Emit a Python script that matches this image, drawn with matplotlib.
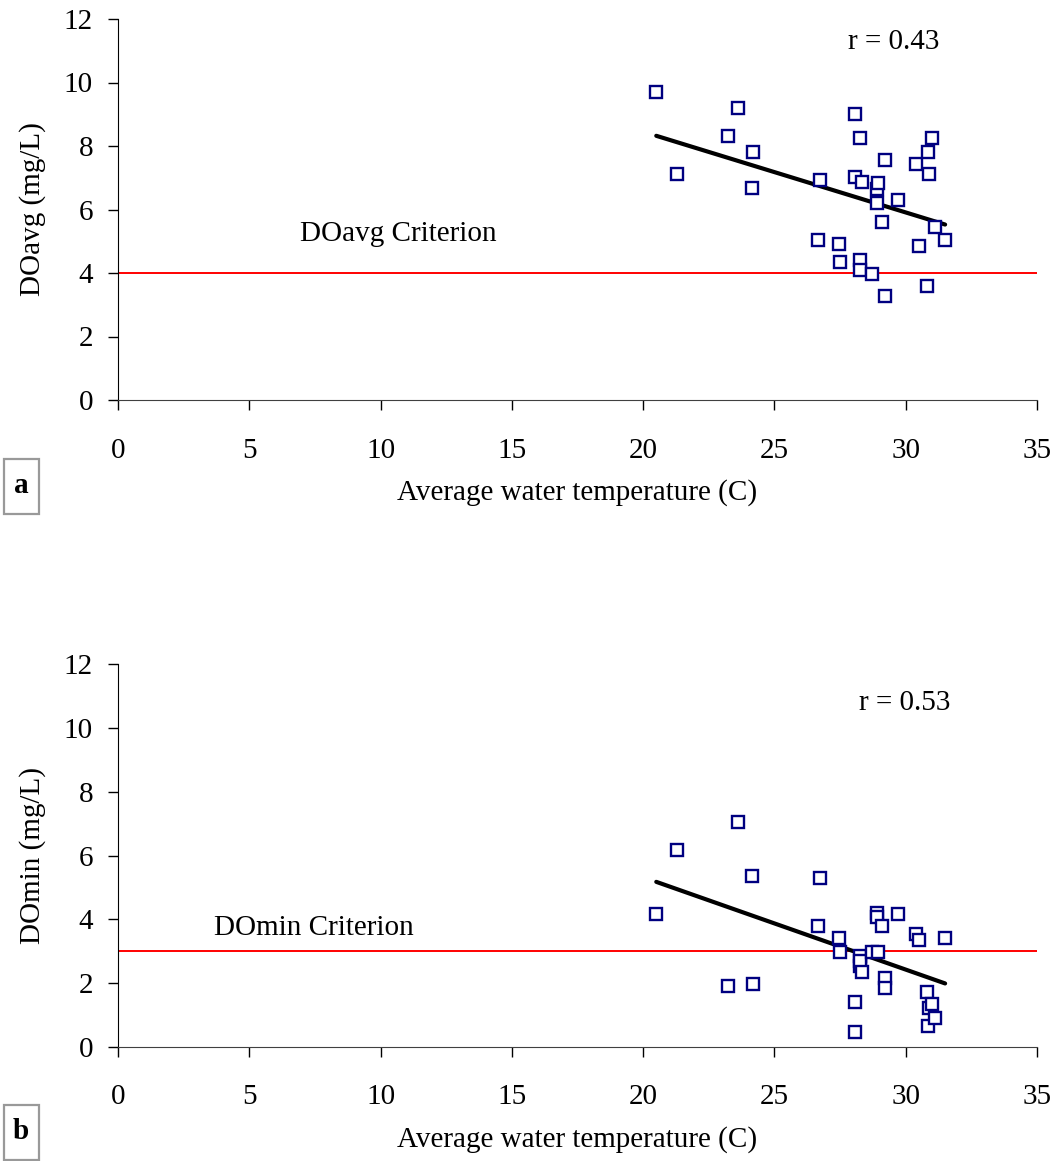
import numpy as np
import matplotlib.pyplot as plt
from matplotlib.patches import Rectangle

plt.rcParams['font.family'] = ['Liberation Serif', 'DejaVu Serif']

# Average water temperature (C) for each station
temp = [20.5, 21.3, 23.25, 23.6, 24.15, 24.2, 26.65, 26.75, 27.45, 27.5,
        28.05, 28.05, 28.27, 28.27, 28.27, 28.35, 28.7, 28.9, 28.9, 28.95,
        29.1, 29.2, 29.2, 29.7, 30.4, 30.5, 30.8, 30.85, 30.9, 31.0, 31.1, 31.5]

# Average dissolved oxygen (mg/L)
do_avg = [9.69, 7.12, 8.32, 9.19, 6.68, 7.81, 5.05, 6.94, 4.92, 4.36,
          9.01, 7.01, 8.25, 4.42, 4.11, 6.88, 3.98, 6.63, 6.19, 6.82,
          5.61, 7.56, 3.29, 6.31, 7.44, 4.86, 3.60, 7.81, 7.12, 8.25, 5.45, 5.05]

# Minimum dissolved oxygen (mg/L)
do_min = [4.16, 6.17, 1.90, 7.05, 5.36, 1.97, 3.79, 5.29, 3.41, 2.97,
          1.40, 0.46, 2.85, 2.53, 2.70, 2.34, 2.97, 4.20, 4.06, 2.97,
          3.79, 2.16, 1.84, 4.16, 3.54, 3.35, 1.72, 0.65, 1.21, 1.34, 0.90, 3.41]

W, H = 1057, 1161
panels = [
    dict(y=do_avg, ylabel='DOavg (mg/L)', crit=4.0, crit_label='DOavg Criterion',
         crit_xy=(10.66, 5.0), r='r = 0.43', r_xy=(29.55, 11.06), tag='a',
         top=19, bottom=400, tag_top=459),
    dict(y=do_min, ylabel='DOmin (mg/L)', crit=3.0, crit_label='DOmin Criterion',
         crit_xy=(7.45, 3.5), r='r = 0.53', r_xy=(29.95, 10.57), tag='b',
         top=664, bottom=1047, tag_top=1105),
]

fig = plt.figure(figsize=(W / 100, H / 100), dpi=100)
FS = 21

for p in panels:
    left, right = 118, 1037
    ax = fig.add_axes([left / W, 1 - p['bottom'] / H,
                       (right - left) / W, (p['bottom'] - p['top']) / H])
    x = np.array(temp)
    y = np.array(p['y'])

    # criterion line
    ax.axhline(p['crit'], color='#ff0000', lw=1.4, zorder=1)
    ax.text(*p['crit_xy'], p['crit_label'], fontsize=FS, ha='center', va='baseline')

    ax.plot(x, y, ls='none', marker='s', ms=8, mfc='white', mec='#000080',
            mew=1.7, zorder=3)

    # least squares trend line over the temperature range
    slope, icpt = np.polyfit(x, y, 1)
    xs = np.array([x.min(), x.max()])
    ax.plot(xs, slope * xs + icpt, color='black', lw=3, solid_capstyle='round', zorder=2)

    ax.text(*p['r_xy'], p['r'], fontsize=FS, ha='center', va='baseline')

    ax.set_xlim(0, 35)
    ax.set_ylim(0, 12)
    ax.set_xticks(range(0, 36, 5))
    ax.set_yticks(range(0, 13, 2))
    ax.spines['top'].set_visible(False)
    ax.spines['right'].set_visible(False)
    ax.spines['bottom'].set_color('#404040')
    ax.spines['left'].set_color('black')
    ax.tick_params(axis='x', direction='out', length=7, width=1, pad=20, labelsize=FS)
    ax.tick_params(axis='y', direction='out', length=7, width=1, pad=11, labelsize=FS)

    ax_h = p['bottom'] - p['top']
    ax.set_xlabel('Average water temperature (C)', fontsize=FS, va='center')
    ax.xaxis.set_label_coords(0.5, -(493 - 400) / ax_h)
    ax.set_ylabel(p['ylabel'], fontsize=FS, va='center')
    ax.yaxis.set_label_coords(-(118 - 33) / (right - left), 0.5)

    # panel tag in a grey box at the lower left
    t = p['tag_top']
    fig.add_artist(Rectangle((4 / W, 1 - (t + 55) / H), 35 / W, 55 / H,
                             transform=fig.transFigure, fc='white', ec='#999999', lw=1.6))
    fig.text(21 / W, 1 - (t + 34) / H, p['tag'], fontsize=FS, fontweight='bold',
             ha='center', va='baseline')

fig.savefig('out.png', dpi=100)
